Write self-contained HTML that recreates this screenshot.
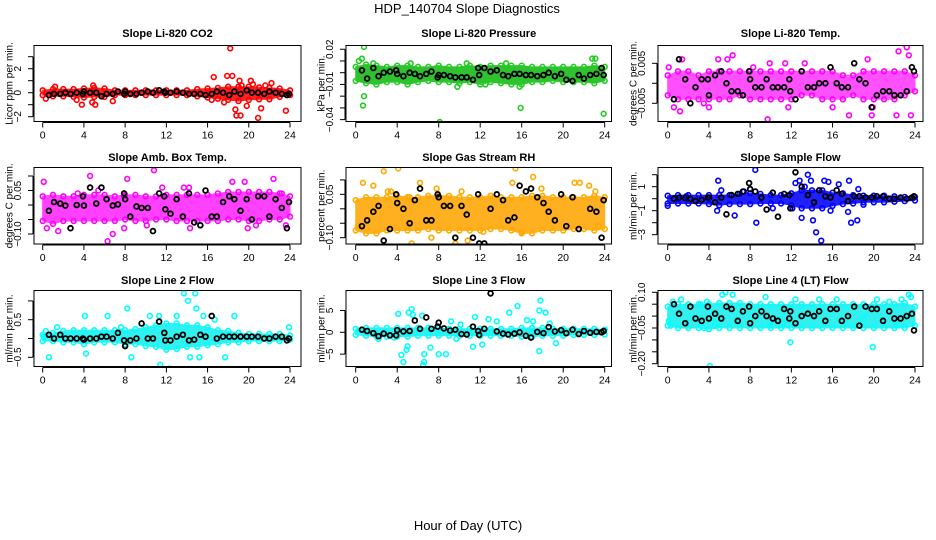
<!DOCTYPE html>
<html><head><meta charset="utf-8"><style>
html,body{margin:0;padding:0;background:#fff;}
svg{display:block;font-family:"Liberation Sans",sans-serif;}
</style></head><body>
<svg id="chart" width="936" height="540" viewBox="0 0 936 540" xmlns="http://www.w3.org/2000/svg">
<rect width="936" height="540" fill="#fff"/>
<text x="467" y="13" font-size="13" text-anchor="middle">HDP_140704  Slope Diagnostics</text>
<text x="468" y="530" font-size="13" text-anchor="middle">Hour of Day (UTC)</text>
<g id="panels"></g>
</svg>
<script>
// shared categories
const xTicks = [0,4,8,12,16,20,24];
const blackHours = [0.6,1.1,1.7,2.2,2.7,3.3,3.9,4.0,4.6,5.2,5.7,6.2,6.8,7.3,7.9,8.0,8.5,9.1,9.6,10.2,10.7,11.3,11.8,11.9,12.4,13.0,13.6,14.2,14.7,15.3,15.8,16.4,16.9,17.5,18.1,18.6,19.2,19.8,20.3,20.9,21.5,22.0,22.6,23.2,23.7,23.9];
const bandHours = [0,1,2,3,4,5,6,7,8,9,10,11,12,13,14,15,16,17,18,19,20,21,22,23,24];

const titles = ["Slope Li-820 CO2","Slope Li-820 Pressure","Slope Li-820 Temp.","Slope Amb. Box Temp.","Slope Gas Stream RH","Slope Sample Flow","Slope Line 2 Flow","Slope Line 3 Flow","Slope Line 4 (LT) Flow"];
const yTitles = ["Licor ppm per min.","kPa per min.","degrees C per min.","degrees C per min.","percent per min.","ml/min per min.","ml/min per min.","ml/min per min.","ml/min per min."];
const colors = ["#ff0000","#22cc22","#ff00ff","#ff00ff","#ffaa00","#0000ff","#00ffff","#00ffff","#00ffff"];
const bandColors = ["#ff2020","#30c030","#ff50ff","#ff40ff","#ffb020","#2020ff","#30f0f0","#30f0f0","#30f0f0"];

const yTicks = [[-2,-1,0,1,2,3],[0.02,0.01,0,-0.01,-0.02,-0.03,-0.04],[0.005,0,-0.005],[0.1,0.05,0,-0.05,-0.1],[0.1,0.05,0,-0.05,-0.1],[2,1,0,-1,-2,-3],[1,0.5,0,-0.5],[5,0,-5],[0.1,0.05,0,-0.05,-0.1,-0.15,-0.2]];
const yLabelVals = [[-2,0,2],[0.02,-0.01,-0.04],[0.005,-0.005],[0.05,-0.1],[0.05,-0.1],[1,-1,-3],[0.5,-0.5],[5,0,-5],[0.1,-0.05,-0.2]];
const yLabelText = [["−2","0","2"],["0.02","−0.01","−0.04"],["0.005","−0.005"],["0.05","−0.10"],["0.05","−0.10"],["1","−1","−3"],["0.5","−0.5"],["5","0","−5"],["0.10","−0.05","−0.20"]];

const bandHi = [
[0.2,0.3,0.3,0.3,0.35,0.4,0.35,0.2,0.2,0.2,0.2,0.2,0.2,0.2,0.2,0.3,0.35,0.4,0.5,0.5,0.5,0.45,0.4,0.35,0.2],
[0.005,0.007,0.006,0.005,0.006,0.006,0.005,0.005,0.006,0.005,0.005,0.006,0.005,0.006,0.006,0.006,0.006,0.005,0.005,0.005,0.005,0.005,0.005,0.006,0.005],
[0.002,0.003,0.003,0.002,0.003,0.003,0.003,0.003,0.003,0.003,0.003,0.003,0.003,0.003,0.003,0.003,0.003,0.002,0.002,0.003,0.003,0.003,0.003,0.003,0.002],
[0.03,0.035,0.03,0.03,0.035,0.035,0.035,0.03,0.035,0.035,0.03,0.03,0.035,0.035,0.035,0.035,0.035,0.04,0.045,0.045,0.045,0.045,0.045,0.04,0.03],
[0.03,0.04,0.04,0.04,0.045,0.04,0.04,0.045,0.045,0.045,0.04,0.04,0.04,0.045,0.04,0.04,0.04,0.045,0.045,0.04,0.04,0.04,0.04,0.045,0.04],
[0.25,0.3,0.3,0.3,0.3,0.3,0.3,0.4,0.45,0.4,0.3,0.3,0.45,0.7,0.7,0.7,0.5,0.45,0.3,0.25,0.25,0.25,0.2,0.15,0.15],
[0.1,0.15,0.2,0.22,0.22,0.22,0.22,0.22,0.22,0.25,0.3,0.35,0.4,0.4,0.35,0.35,0.3,0.22,0.2,0.15,0.12,0.12,0.12,0.12,0.08],
[0.8,1.0,1.0,1.0,1.0,1.0,1.0,1.0,1.0,0.8,0.8,0.8,0.8,0.8,0.8,0.8,1.0,1.0,1.0,0.8,0.8,0.8,0.8,0.8,0.6],
[0.04,0.05,0.05,0.05,0.05,0.055,0.055,0.055,0.05,0.05,0.05,0.05,0.05,0.05,0.05,0.05,0.05,0.05,0.05,0.05,0.05,0.05,0.05,0.055,0.04]];
const bandLo = [
[-0.2,-0.3,-0.3,-0.35,-0.4,-0.35,-0.35,-0.2,-0.2,-0.2,-0.2,-0.2,-0.2,-0.2,-0.2,-0.3,-0.4,-0.5,-0.6,-0.7,-0.6,-0.55,-0.55,-0.35,-0.2],
[-0.007,-0.009,-0.01,-0.008,-0.008,-0.01,-0.008,-0.007,-0.008,-0.008,-0.009,-0.008,-0.01,-0.008,-0.009,-0.01,-0.01,-0.008,-0.008,-0.007,-0.008,-0.008,-0.008,-0.009,-0.007],
[-0.003,-0.004,-0.004,-0.004,-0.004,-0.004,-0.004,-0.003,-0.004,-0.004,-0.004,-0.004,-0.004,-0.003,-0.003,-0.004,-0.004,-0.004,-0.003,-0.004,-0.004,-0.004,-0.004,-0.003,-0.002],
[-0.055,-0.065,-0.055,-0.055,-0.055,-0.055,-0.055,-0.055,-0.05,-0.055,-0.055,-0.05,-0.05,-0.055,-0.055,-0.055,-0.055,-0.055,-0.05,-0.05,-0.055,-0.055,-0.05,-0.05,-0.04],
[-0.075,-0.085,-0.085,-0.075,-0.075,-0.075,-0.075,-0.07,-0.075,-0.075,-0.075,-0.075,-0.075,-0.07,-0.07,-0.075,-0.085,-0.085,-0.075,-0.075,-0.075,-0.07,-0.07,-0.075,-0.07],
[-0.4,-0.4,-0.4,-0.4,-0.45,-0.55,-0.45,-0.45,-0.45,-0.4,-0.4,-0.4,-0.55,-0.8,-0.8,-0.8,-0.6,-0.45,-0.4,-0.3,-0.3,-0.3,-0.25,-0.2,-0.15],
[-0.07,-0.07,-0.1,-0.1,-0.15,-0.1,-0.1,-0.1,-0.15,-0.15,-0.2,-0.22,-0.3,-0.28,-0.22,-0.22,-0.18,-0.15,-0.1,-0.1,-0.07,-0.07,-0.07,-0.07,-0.03],
[-0.6,-0.8,-1.0,-1.0,-1.0,-1.0,-0.8,-0.8,-0.8,-0.8,-0.8,-0.8,-0.8,-0.8,-0.8,-0.8,-1.0,-1.0,-0.8,-0.8,-0.8,-0.6,-0.6,-0.6,-0.5],
[-0.04,-0.05,-0.05,-0.05,-0.055,-0.05,-0.05,-0.05,-0.05,-0.05,-0.05,-0.05,-0.05,-0.05,-0.05,-0.05,-0.05,-0.05,-0.05,-0.05,-0.05,-0.05,-0.05,-0.05,-0.04]];

const outliers = [
[0.3,-0.5,3.3,-0.6,3.8,-1.0,4.8,-0.8,5.1,-1.0,6.8,-0.7,16.4,-0.6,16.6,1.3,17.6,-0.8,17.9,1.4,18.2,3.7,18.4,1.4,18.7,-1.4,18.8,-1.9,19.1,1.0,19.2,-1.9,19.3,0.6,19.8,-1.1,20.2,1.0,20.4,0.7,20.9,-2.1,21.2,-1.3,21.6,0.6,22.2,0.8,23.6,-1.5,1.2,0.5,4.9,0.6],
[0.3,0.01,0.6,0.012,0.8,0.022,0.7,-0.028,0.8,-0.02,1.7,0.008,5.3,0.008,8.1,-0.042,9.8,-0.012,10.7,0.008,14.5,0.008,15.8,-0.012,15.9,-0.03,22.8,0.012,23.1,0.012,23.9,-0.035,12.5,-0.01],
[0.1,0.004,0.6,-0.006,1.2,-0.007,1.4,0.006,3.5,-0.005,4.0,-0.006,4.9,0.006,5.8,0.006,6.3,0.007,9.7,-0.009,9.9,0.005,11.4,0.005,11.7,-0.006,13.3,0.005,16.0,-0.006,17.6,-0.008,19.4,0.006,19.8,-0.008,21.1,0.011,22.4,0.008,22.2,-0.008,22.8,-0.011,22.9,0.010,23.2,0.009,23.4,0.007,23.6,-0.008,19.9,-0.006,8.3,0.004],
[0.1,0.08,0.4,-0.08,1.5,-0.09,3.4,0.04,4.6,0.1,5.4,0.05,6.3,-0.125,6.8,-0.1,7.9,0.03,8.2,0.09,7.9,-0.08,10.1,-0.07,10.8,0.12,11.6,0.06,13.7,0.06,14.2,0.06,14.3,-0.08,15.1,0.14,19.6,0.08,19.9,-0.08,20.7,-0.07,22.4,0.09,23.6,-0.07,23.2,0.04,18.4,0.08],
[0.2,-0.06,0.7,0.09,1.7,0.08,2.7,0.13,3.1,0.06,3.4,0.06,3.5,-0.14,4.1,0.14,5.2,0.04,5.4,-0.12,6.2,0.09,7.3,-0.1,7.8,0.07,9.6,-0.12,10.2,0.06,10.8,-0.11,12.3,-0.08,12.8,-0.14,13.2,-0.15,15.0,-0.13,15.1,0.09,15.4,0.14,16.0,-0.08,17.1,0.11,17.9,0.07,20.6,-0.14,21.1,0.09,21.6,0.09,22.3,-0.14,22.5,0.08,23.1,0.06,23.4,-0.06],
[0.0,-0.6,1.8,0.2,4.9,1.5,4.8,-1.0,5.2,0.7,6.5,-1.4,7.4,0.6,8.5,2.4,8.6,-2.0,10.2,-0.8,12.1,-0.8,12.4,1.3,12.8,1.5,13.3,1.0,13.0,-1.6,13.6,2.0,13.9,1.5,14.1,-1.8,14.4,-2.8,14.9,-3.5,15.2,1.5,15.6,1.4,15.8,-1.0,16.6,1.2,17.5,-1.1,17.6,1.5,17.8,-2.0,18.4,-1.8,18.5,0.8,19.0,-0.5],
[0.1,0.05,0.3,0.2,0.6,-0.5,1.4,0.3,4.1,0.6,4.2,-0.4,6.3,0.6,7.6,0.3,8.2,0.8,8.6,-0.5,10.4,0.6,11.3,0.6,11.4,-0.7,12.3,-0.8,12.5,-1.2,13.0,0.6,13.7,1.2,14.1,1.0,14.8,1.2,14.9,0.8,15.2,-0.5,15.6,0.6,16.7,0.5,18.6,0.6,17.7,-0.5,23.9,0.3,14.3,-0.5],
[2.2,-1.5,3.7,-1.2,4.1,4.2,4.4,-5.2,4.6,-6.8,4.9,-4.0,5.0,-3.2,5.1,4.5,5.4,5.3,5.5,4.0,6.4,3.8,6.5,-7.5,6.6,-6.8,6.6,-5.0,7.2,-3.5,8.0,-5.0,8.7,-5.0,9.2,2.5,9.7,-1.5,10.1,1.8,11.3,-3.3,11.5,3.5,12.2,-2.8,12.8,3.0,13.6,2.5,14.8,4.5,15.6,6.0,16.5,2.8,17.1,2.5,17.7,5.0,17.8,7.3,17.7,-4.3,18.3,4.5,19.3,-2.5,18.7,2.0],
[0.1,-0.02,0.3,-0.04,0.5,0.06,1.3,0.07,3.2,0.05,3.5,-0.05,4.1,-0.21,4.6,-0.03,5.3,0.09,5.6,0.1,6.3,0.09,6.8,-0.02,9.5,0.08,9.9,-0.04,11.2,-0.03,11.9,-0.11,12.4,0.07,14.7,0.07,16.4,0.07,17.2,-0.03,19.0,-0.01,19.9,-0.13,20.3,0.07,21.5,0.06,22.2,-0.04,22.7,0.07,23.4,0.09,23.6,0.08,3.8,0.06]];

const blackY = [
[-0.2,-0.1,-0.1,0,-0.1,0,-0.1,0.1,0,0,-0.3,-0.1,-0.1,0.1,-0.1,0.1,-0.1,-0.1,0,0.1,0,0.2,0.1,0,0,0.1,0,-0.1,-0.1,-0.1,-0.2,-0.1,0.1,0,-0.2,0.1,-0.1,0.2,0,0,-0.1,0.1,0,-0.1,-0.2,-0.1],
[0.002,-0.005,0.004,-0.003,0,0.001,0.002,-0.001,-0.003,0,-0.001,-0.003,-0.001,0.001,-0.004,-0.002,-0.002,-0.003,-0.004,-0.004,-0.004,-0.006,0.004,-0.002,0.004,0.001,0.002,-0.002,-0.003,-0.001,-0.001,-0.002,-0.002,-0.003,-0.002,0,-0.003,-0.001,-0.006,-0.007,-0.002,-0.005,-0.002,-0.001,0.004,-0.002],
[-0.004,0.006,0.001,-0.005,-0.001,0.001,0.001,-0.003,0.002,0.003,0,-0.002,-0.002,-0.003,0.003,0.001,-0.001,-0.001,0.001,-0.001,-0.001,-0.001,0.001,-0.002,-0.004,0.003,-0.001,-0.001,0,0,0.004,0,-0.001,-0.001,0.005,0.001,0,-0.006,-0.003,-0.002,-0.002,-0.003,-0.003,-0.002,0.004,0.003],
[-0.02,0.01,0.005,-0.002,-0.08,0,0.03,-0.002,0.06,0.005,0.06,0.02,-0.002,0.002,0.04,0.02,-0.04,-0.005,-0.01,-0.01,-0.09,0.04,0.03,-0.015,-0.03,0.02,-0.04,0.04,-0.06,-0.07,0.05,-0.04,-0.04,0.01,0.03,0.02,-0.02,0.02,-0.05,0.03,0.03,-0.04,0.02,-0.01,-0.08,0.01],
[-0.06,-0.04,-0.01,0.01,-0.11,-0.07,0.05,0.02,0,-0.05,0.03,0.07,-0.04,-0.04,0.05,0.04,0.01,0.01,-0.1,0.01,-0.02,-0.1,0.05,-0.12,-0.12,0,0.05,0.03,-0.04,-0.03,0.08,0.06,0.07,0.04,0.02,-0.01,-0.04,0.05,-0.06,0.04,-0.07,-0.16,0,-0.01,-0.1,0.03],
[0,0.1,0.05,0,-0.2,-0.1,0.1,0.1,-0.3,0.1,-1.3,0.3,0.4,0.6,1.3,0.8,0.6,0.1,-0.9,0.5,-1.5,0.4,0.3,-0.8,2.2,1.0,0.3,-0.3,0.7,0.2,0.1,0.7,0.4,-0.2,0.2,0.2,0.1,0.1,0.2,0.2,0,0,0.1,0,0.1,0.2],
[0.1,0,0.1,0,0,0,0,-0.03,0,0,0.05,0.05,0,0.15,-0.05,-0.2,-0.05,0,0.4,0,0,0.45,0.15,-0.05,-0.05,0.05,0.1,-0.05,-0.03,0.1,0.05,0.6,0,0.05,0.05,0.05,0.05,0.05,0.05,0.05,0,0,0.05,0.05,-0.05,0],
[0.6,0.3,-0.2,-0.9,-0.3,-0.7,-0.7,0.5,0.2,0.3,2.7,0.8,3.4,0.8,1.3,2.2,0.9,0.4,0.6,-0.4,-0.5,1.3,0.3,-0.6,0.8,8.9,0.2,-0.3,-0.5,-0.3,0,-0.8,-1.2,0.1,-0.2,1.2,0.2,0.5,-0.2,0.6,-0.4,0.3,-0.1,0.1,0,0.3],
[0.05,0.01,-0.03,0.04,-0.01,-0.02,0.04,-0.01,0.01,-0.01,0.04,0.03,-0.02,0.02,0.04,-0.03,0,0.02,0,-0.01,-0.02,0.03,-0.01,0.02,-0.03,0,0.01,0,0.02,-0.02,0.03,0.03,-0.02,0,0.04,-0.04,0.04,0.03,0.03,-0.02,0.02,-0.01,-0.01,0,0.01,-0.06]];

const colL=[34,346,658], colR=[301,611.5,923], colX0=[42.7,355.7,667.7], colX24=[290,604.7,915];
const rowT=[45.5,167.5,290.5], rowB=[121.5,244,366.5], rowTitleY=[37,161,284];
const yZero=[92.7,72.7,83.3,205,208.8,198.7,338.5,332.3,316.1];
const yScale=[12,1173,4000,290,289,12,37.6,4.37,238];
const yTitleX=[10,322,634];

const NS="http://www.w3.org/2000/svg";
const root=document.getElementById('panels');
function mk(tag,attrs,parent){const e=document.createElementNS(NS,tag);for(const k in attrs)e.setAttribute(k,attrs[k]);parent.appendChild(e);return e;}

for(let p=0;p<9;p++){
  const c=p%3,r=Math.floor(p/3);
  const xs=h=>colX0[c]+(colX24[c]-colX0[c])*h/24;
  const ys=v=>yZero[p]-v*yScale[p];
  const t=rowT[r],b=rowB[r],l=colL[c],R=colR[c];
  const g=mk('g',{},root);
  
  
  const clip=mk('clipPath',{id:'cl'+p},g);
  mk('rect',{x:l,y:t,width:R-l,height:b-t},clip);
  const tt=mk('text',{x:(l+R)/2,y:rowTitleY[r],'font-size':11,'font-weight':'bold','text-anchor':'middle'},g);
  tt.textContent=titles[p];
  
  
  const yt=mk('text',{x:yTitleX[c],y:(t+b)/2,'font-size':10,'text-anchor':'middle',transform:`rotate(-90 ${yTitleX[c]} ${(t+b)/2})`,'dominant-baseline':'central'},g);
  yt.textContent=yTitles[p];
  
  
  const plot=mk('g',{'clip-path':`url(#cl${p})`},g);
  
  
  let pts=bandHours.map((h,i)=>xs(h)+','+ys(bandHi[p][i]));
  pts=pts.concat(bandHours.map((h,i)=>xs(h)+','+ys(bandLo[p][i])).reverse());
  const band=mk('polygon',{points:pts.join(' '),fill:bandColors[p],stroke:bandColors[p],'stroke-width':1,'stroke-linejoin':'round'},plot);
  
  
  bandHours.forEach((h,i)=>{
    [bandHi[p][i],bandLo[p][i]].forEach(v=>{
      const e=mk('circle',{cx:xs(h),cy:ys(v),r:2.4,fill:'none',stroke:colors[p],'stroke-width':1.6},plot);
      
      
    });
  });
  const o=outliers[p];
  for(let i=0;i<o.length;i+=2){
    const e=mk('circle',{cx:xs(o[i]),cy:ys(o[i+1]),r:2.4,fill:'none',stroke:colors[p],'stroke-width':1.6},plot);
    
    
  }
  blackHours.forEach((h,i)=>{
    const e=mk('circle',{cx:xs(h),cy:ys(blackY[p][i]),r:2.4,fill:'none',stroke:'#000','stroke-width':1.8},plot);
    
    
  });
  const box=mk('rect',{x:l,y:t,width:R-l,height:b-t,fill:'none',stroke:'#000','stroke-width':1},g);
  
  
  mk('line',{x1:xs(0),x2:xs(24),y1:b+1,y2:b+1,stroke:'#000'},g);
  xTicks.forEach(h=>{
    mk('line',{x1:xs(h),x2:xs(h),y1:b+1,y2:b+6,stroke:'#000'},g);
    const tl=mk('text',{x:xs(h),y:b+17,'font-size':10.5,'text-anchor':'middle'},g);
    tl.textContent=h;
    
    
  });
  const tk=yTicks[p];
  mk('line',{x1:l-1,x2:l-1,y1:ys(Math.max(...tk)),y2:ys(Math.min(...tk)),stroke:'#000'},g);
  tk.forEach(v=>mk('line',{x1:l-6,x2:l-1,y1:ys(v),y2:ys(v),stroke:'#000'},g));
  yLabelVals[p].forEach((v,i)=>{
    const x=l-13,y=ys(v);
    const tl=mk('text',{x:x,y:y,'font-size':10,'text-anchor':'middle',transform:`rotate(-90 ${x} ${y})`},g);
    tl.textContent=yLabelText[p][i];
    
    
  });
}
</script>
</body></html>
